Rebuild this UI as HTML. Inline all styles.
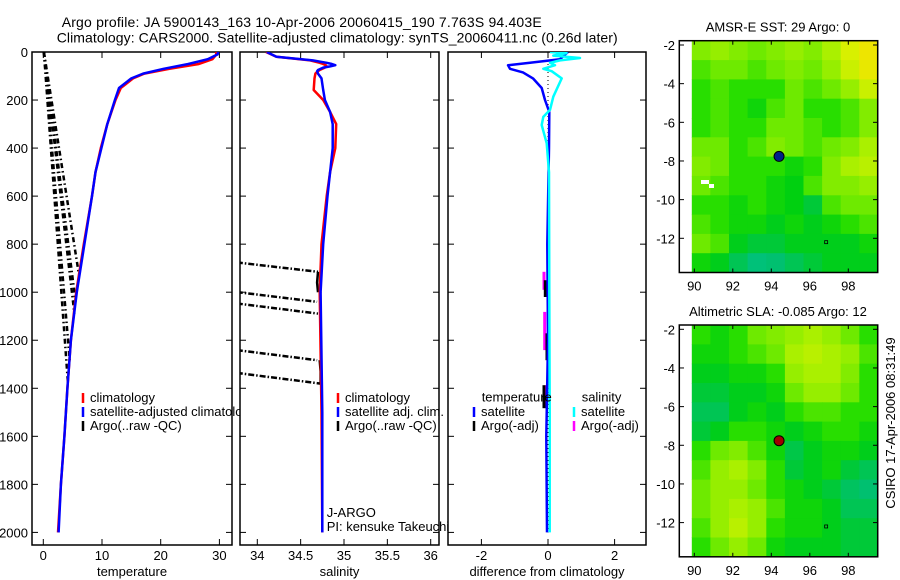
<!DOCTYPE html>
<html><head><meta charset="utf-8"><style>
html,body{margin:0;padding:0;background:#fff}
svg{display:block;font-family:"Liberation Sans",sans-serif}
</style></head><body>
<svg id="fig" width="900" height="580" viewBox="0 0 900 580" xmlns="http://www.w3.org/2000/svg">
<rect width="900" height="580" fill="#fff"/>
<text x="61.7" y="27" font-size="14" textLength="480">Argo profile: JA 5900143_163 10-Apr-2006 20060415_190 7.763S 94.403E</text>
<text x="56.7" y="42.7" font-size="14" textLength="561">Climatology: CARS2000. Satellite-adjusted climatology: synTS_20060411.nc (0.26d later)</text>
<g id="g1"></g>
<g id="g2"></g>
<g id="g3"></g>
<g id="g4"></g>
<g id="g5"></g>
<text transform="translate(895,423) rotate(-90)" text-anchor="middle" font-size="13">CSIRO 17-Apr-2006 08:31:49</text>
</svg>
<script>
// ---- data ----
const depthTicks=[0,200,400,600,800,1000,1200,1400,1600,1800,2000];
const tempTicks=[0,10,20,30];
const salTicks=[34,34.5,35,35.5,36];
const salTickLabels=["34","34.5","35","35.5","36"];
const diffTicks=[-2,0,2];
const tDepth=[0,10,30,50,70,90,110,150,200,300,400,500,600,800,1000,1200,1400,1600,1800,2000];
const tClim=[29.4,29.5,28.8,26.5,21.5,17.2,15.3,13.2,12.3,10.9,9.8,8.9,8.3,6.9,5.6,4.7,4.1,3.6,3.0,2.5];
const tSat=[29.8,29.7,28.0,24.7,20.5,17.0,15.0,12.9,12.2,10.9,9.9,8.9,8.3,7.0,5.7,4.7,4.1,3.6,3.0,2.6];
const sDepth=[0,20,35,45,50,55,60,65,75,80,90,110,158,200,250,300,400,500,600,800,1000,1500,2000];
const sClim=[34.10,34.22,34.61,34.72,34.76,34.79,34.80,34.78,34.72,34.70,34.67,34.66,34.65,34.76,34.84,34.91,34.90,34.84,34.80,34.74,34.72,34.74,34.75];
const sSat=[34.11,34.22,34.64,34.80,34.86,34.90,34.84,34.76,34.70,34.69,34.70,34.74,34.76,34.78,34.84,34.87,34.87,34.84,34.81,34.76,34.73,34.75,34.75];
const argoTEndDepth=[915,1040,1089,1283,1381];
const argoTEndTemp=[6.0,5.5,5.3,4.5,4.2];
const argoSStartDepth=[887,1010,1057,1251,1346];
const argoSEndDepth=[915,1040,1089,1283,1381];
const argoSEndSal=[34.70,34.69,34.70,34.69,34.74];
const dTDepth=[0,30,45,55,70,85,110,150,200,250,400,800,1200,1600,2000];
const dTVal=[0.6,0.36,-0.54,-1.2,-1.14,-0.75,-0.45,-0.19,-0.09,0.04,0.03,-0.02,0.0,-0.05,-0.03];
const dSDepth=[0,5,15,25,35,45,55,70,80,110,186,241,270,304,380,500,1000,1500,2000];
const dSVal=[0.06,0.56,0.16,0.96,0.36,0.06,0.21,-0.14,0.11,0.41,0.16,0.06,-0.14,-0.19,-0.04,0.03,0.04,0.05,0.05];
const dArgoTDepth0=[950,1171,1387];
const dArgoTDepth1=[1020,1283,1483];
const dArgoTVal=[-0.08,-0.03,-0.12];
const dArgoSDepth0=[915,1082,1387];
const dArgoSDepth1=[990,1241,1483];
const dArgoSVal=[-0.12,-0.1,-0.05];
const mapLatTicks=[-2,-4,-6,-8,-10,-12];
const mapLonTicks=[90,92,94,96,98];
const floatLon=94.403, floatLat=-7.763;
const sstGrid=[
[.65,.7,.65,.6,.65,.7,.65,.75,.9,.97],
[.55,.6,.6,.55,.6,.65,.6,.7,.85,.95],
[.5,.55,.5,.5,.5,.6,.55,.6,.7,.85],
[.5,.55,.5,.45,.55,.6,.5,.5,.55,.65],
[.5,.55,.5,.5,.6,.6,.55,.5,.55,.65],
[.6,.6,.5,.55,.65,.6,.55,.6,.65,.75],
[.65,.6,.5,.5,.5,.45,.5,.65,.75,.8],
[.6,.55,.5,.5,.45,.42,.55,.65,.65,.7],
[.5,.5,.45,.5,.45,.42,.35,.55,.6,.6],
[.55,.5,.45,.45,.4,.45,.4,.45,.5,.55],
[.6,.55,.4,.35,.35,.4,.4,.4,.4,.45],
[.45,.4,.3,.22,.25,.3,.35,.4,.4,.4]];
const slaGrid=[
[.5,.45,.5,.6,.65,.7,.75,.7,.6,.5],
[.45,.45,.5,.55,.6,.75,.8,.75,.7,.55],
[.4,.4,.45,.45,.5,.7,.75,.75,.65,.5],
[.35,.35,.4,.4,.45,.6,.7,.7,.6,.5],
[.3,.3,.4,.45,.4,.5,.55,.55,.5,.5],
[.35,.4,.5,.5,.45,.4,.45,.5,.5,.45],
[.5,.6,.65,.55,.45,.32,.4,.45,.45,.4],
[.55,.7,.75,.65,.5,.35,.4,.45,.35,.3],
[.6,.7,.7,.6,.5,.45,.4,.35,.28,.25],
[.6,.7,.75,.7,.55,.45,.45,.4,.3,.3],
[.55,.7,.8,.7,.5,.45,.45,.4,.35,.35],
[.5,.6,.7,.6,.45,.4,.4,.4,.35,.35]];

// ---- helpers ----
const NS="http://www.w3.org/2000/svg";
function mk(tag,parent,attrs){const e=document.createElementNS(NS,tag);for(const k in attrs)e.setAttribute(k,attrs[k]);parent.appendChild(e);return e;}
const Y0=52,YK=0.2402; const sy=d=>Y0+d*YK;
const sx1=t=>43.3+t*5.87, sx2=s=>257.3+(s-34)*86.7, sx3=v=>548+v*33.3;
const BOT=545;

function panel(g,x0,x1,sx,xt,xl,xlabel,yLabels){
  const r=mk('rect',g,{x:x0,y:Y0,width:x1-x0,height:BOT-Y0,fill:'#fff',stroke:'#000','stroke-width':1.5});
  
  
  depthTicks.forEach(d=>{
    mk('line',g,{x1:x0,x2:x0+6,y1:sy(d),y2:sy(d),stroke:'#000'});
    mk('line',g,{x1:x1-6,x2:x1,y1:sy(d),y2:sy(d),stroke:'#000'});
    if(yLabels){const t=mk('text',g,{x:28,y:sy(d)+5,'text-anchor':'end','font-size':13});t.textContent=d;
      
      }
  });
  xt.forEach((v,i)=>{
    mk('line',g,{x1:sx(v),x2:sx(v),y1:BOT,y2:BOT-6,stroke:'#000'});
    mk('line',g,{x1:sx(v),x2:sx(v),y1:Y0,y2:Y0+6,stroke:'#000'});
    const t=mk('text',g,{x:sx(v),y:560,'text-anchor':'middle','font-size':13});t.textContent=xl[i];
    
    
  });
  const t=mk('text',g,{x:(x0+x1)/2,y:576,'text-anchor':'middle','font-size':13});t.textContent=xlabel;
  
  
}
function poly(g,xs,ds,sx,color,w,name,extra){
  const pts=xs.map((v,i)=>sx(v).toFixed(1)+','+sy(ds[i]).toFixed(1)).join(' ');
  const p=mk('polyline',g,Object.assign({points:pts,fill:'none',stroke:color,'stroke-width':w,'stroke-linejoin':'round'},extra||{}));
  
  
  return p;
}
function legend(g,x,y,color,label){
  mk('line',g,{x1:x,x2:x,y1:y-9,y2:y+1,stroke:color,'stroke-width':2.5});
  const t=mk('text',g,{x:x+7,y:y,'font-size':13});t.textContent=label;
  
  
}
const defs=mk('defs',document.getElementById('fig'),{});
[['c1',32,232],['c2',240,439],['c3',448,646]].forEach(c=>{const cp=mk('clipPath',defs,{id:c[0]});mk('rect',cp,{x:c[1],y:Y0,width:c[2]-c[1],height:BOT-Y0});});

// ---- panel 1 ----
const g1=document.getElementById('g1');
panel(g1,32,232,sx1,tempTicks,tempTicks.map(String),'temperature',true);
const c1=mk('g',g1,{'clip-path':'url(#c1)'});
argoTEndDepth.forEach((d,i)=>{poly(c1,[0.1,argoTEndTemp[i]],[0,d],sx1,'#000',2.5,'argo-temp-line',{'stroke-dasharray':'5,3,1.5,3'});});
poly(c1,tClim,tDepth,sx1,'#f00',2.5,'temp-climatology-line');
poly(c1,tSat,tDepth,sx1,'#00f',2.5,'temp-satellite-line');
legend(g1,83,402,'#f00','climatology');
legend(g1,83,416,'#00f','satellite-adjusted climatology');
legend(g1,83,430,'#000','Argo(..raw -QC)');

// ---- panel 2 ----
const g2=document.getElementById('g2');
panel(g2,240,439,sx2,salTicks,salTickLabels,'salinity',false);
const c2=mk('g',g2,{'clip-path':'url(#c2)'});
argoSStartDepth.forEach((d,i)=>{poly(c2,[33.5,argoSEndSal[i]],[d-22,argoSEndDepth[i]],sx2,'#000',2.5,'argo-sal-line',{'stroke-dasharray':'6,2,1.5,2'});});
poly(c2,[34.70,34.69,34.70],[915,960,1000],sx2,'#000',2.5,'argo-sal-segment');
poly(c2,[34.72,34.73,34.73],[1283,1330,1381],sx2,'#000',2.5,'argo-sal-segment');
poly(c2,sClim,sDepth,sx2,'#f00',2.5,'sal-climatology-line');
poly(c2,sSat,sDepth,sx2,'#00f',2.5,'sal-satellite-line');
legend(g2,338,402,'#f00','climatology');
legend(g2,338,416,'#00f','satellite adj. clim.');
legend(g2,338,430,'#000','Argo(..raw -QC)');
[['J-ARGO',517],['PI: kensuke Takeuchi',531]].forEach(a=>{const t=mk('text',g2,{x:326.7,y:a[1],'font-size':13});t.textContent=a[0];
  
  });

// ---- panel 3 ----
const g3=document.getElementById('g3');
panel(g3,448,646,sx3,diffTicks,diffTicks.map(String),'difference from climatology',false);
const c3=mk('g',g3,{'clip-path':'url(#c3)'});
poly(c3,[0,0],[0,2000],sx3,'#000',1,'zero-line',{'stroke-dasharray':'1,3'});
dArgoSVal.forEach((v,i)=>poly(c3,[v,v],[dArgoSDepth0[i],dArgoSDepth1[i]],sx3,'#f0f',3,'argo-sal-diff'));
dArgoTVal.forEach((v,i)=>poly(c3,[v,v],[dArgoTDepth0[i],dArgoTDepth1[i]],sx3,'#000',3,'argo-temp-diff'));
poly(c3,dTVal,dTDepth,sx3,'#00f',2.5,'temp-diff-line');
poly(c3,dSVal,dSDepth,sx3,'#0ff',2.5,'sal-diff-line');
[['temperature',481.7,401.5],['salinity',581.7,401.5]].forEach(a=>{const t=mk('text',g3,{x:a[1],y:a[2],'font-size':13});t.textContent=a[0];
  
  });
legend(g3,474,416,'#00f','satellite');
legend(g3,474,430,'#000','Argo(-adj)');
legend(g3,574,416,'#0ff','satellite');
legend(g3,574,430,'#f0f','Argo(-adj)');

// ---- maps ----
const stops=[[0,[0,200,184]],[0.25,[0,192,112]],[0.42,[0,208,16]],[0.5,[40,222,0]],[0.6,[110,234,0]],[0.75,[170,240,0]],[0.9,[216,240,0]],[1,[248,224,0]]];
function cmap(v){for(let i=1;i<stops.length;i++){if(v<=stops[i][0]){const a=stops[i-1],b=stops[i],f=(v-a[0])/(b[0]-a[0]);const c=a[1].map((x,k)=>Math.round(x+(b[1][k]-x)*f));return 'rgb('+c.join(',')+')';}}return 'rgb(248,224,0)';}
function drawMap(g,top,grid,title,markColor){
  const lonX=lon=>694.3+(lon-90)*19.25;
  const latY=lat=>top+4.3+(-2-lat)*19.33;
  const lon0=89.87,lon1=99.54,lat0=-1.78,lat1=-13.77;
  const nr=grid.length,nc=grid[0].length,dl=(lon1-lon0)/nc,dp=(lat0-lat1)/nr;
  grid.forEach((row,r)=>row.forEach((v,c)=>{
    const xa=lonX(lon0+c*dl),xb=lonX(lon0+(c+1)*dl),ya=latY(lat0-r*dp),yb=latY(lat0-(r+1)*dp);
    const cell=mk('rect',g,{x:xa.toFixed(1),y:ya.toFixed(1),width:(xb-xa+0.5).toFixed(1),height:(yb-ya+0.5).toFixed(1),fill:cmap(v)});
    
    
  }));
  const bot=top+231.8;
  const fr=mk('rect',g,{x:679.3,y:top,width:198.4,height:bot-top,fill:'none',stroke:'#000','stroke-width':1.5});
  
  
  mapLatTicks.forEach(l=>{const y=latY(l);
    mk('line',g,{x1:679.3,x2:684,y1:y,y2:y,stroke:'#000'});mk('line',g,{x1:873,x2:877.7,y1:y,y2:y,stroke:'#000'});
    const t=mk('text',g,{x:675,y:y+5,'text-anchor':'end','font-size':13});t.textContent=l;
    
    });
  mapLonTicks.forEach(l=>{const x=lonX(l);
    mk('line',g,{x1:x,x2:x,y1:top,y2:top+4,stroke:'#000'});mk('line',g,{x1:x,x2:x,y1:bot,y2:bot-4,stroke:'#000'});
    const t=mk('text',g,{x:x,y:bot+18,'text-anchor':'middle','font-size':13});t.textContent=l;
    
    });
  const t=mk('text',g,{x:778,y:top-9,'text-anchor':'middle','font-size':13});t.textContent=title;
  
  
  const m=mk('circle',g,{cx:lonX(floatLon),cy:latY(floatLat),r:5,fill:markColor,stroke:'#000','stroke-width':1});
  
  
  mk('rect',g,{x:lonX(96.85)-1.5,y:latY(-12.2)-1.5,width:3,height:3,fill:'none',stroke:'#000','stroke-width':0.8});
}
drawMap(document.getElementById('g4'),40.7,sstGrid,'AMSR-E SST: 29 Argo: 0','#00208a');
const g4=document.getElementById('g4');
const wp=mk('path',g4,{d:'M701,180h8v4h5v4h-5v-4h-8z',fill:'#fff'});


drawMap(document.getElementById('g5'),325,slaGrid,'Altimetric SLA: -0.085 Argo: 12','#a00000');
</script>
</body></html>
